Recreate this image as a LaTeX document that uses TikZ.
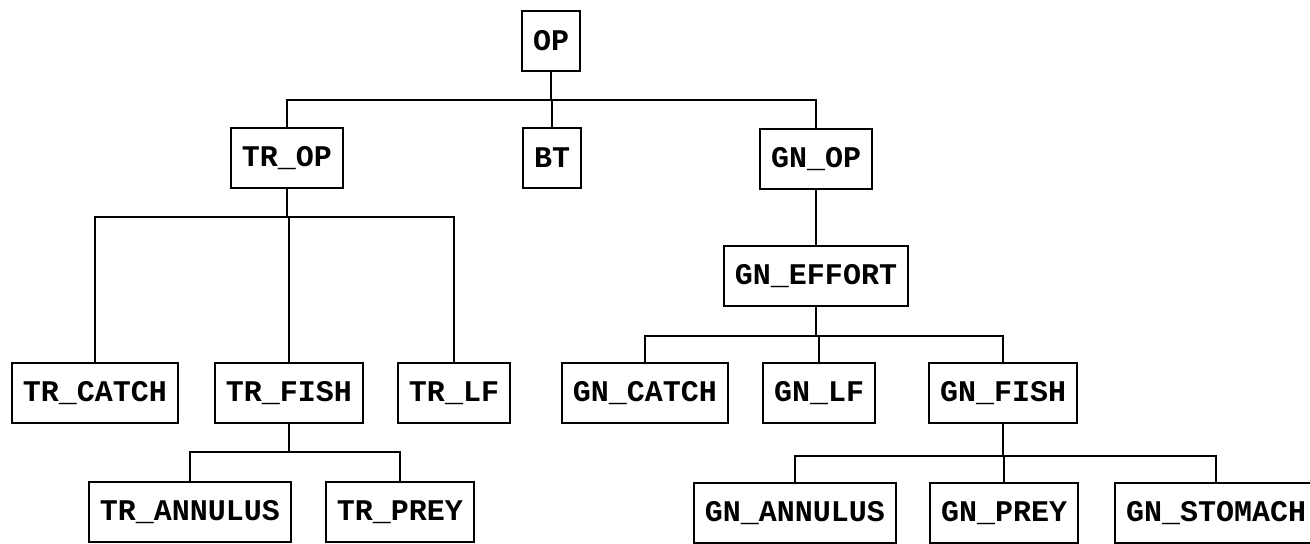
\documentclass[tikz,border=0pt]{standalone}
\usepackage{fontspec}
\setmonofont{Liberation Mono}
\usepackage{tikz}
\usetikzlibrary{positioning,calc}
\tikzset{
  box/.style={rectangle, draw=black, fill=white, line width=1.2pt, inner xsep=5.5pt, inner ysep=0pt,
              minimum height=30pt, font=\ttfamily\bfseries\fontsize{15}{15}\selectfont},
  link/.style={draw=black, line width=1pt}
}

\begin{document}
\begin{tikzpicture}[x=0.5pt, y=-0.5pt]
\useasboundingbox (0,0) rectangle (1310,544);
% root and first level
\node[box] (op) at (551,41) {OP};
\node[box] (trop) at (287,158) {TR\_OP};
\node[box] (bt) at (552,158) {BT};
\node[box] (gnop) at (816,159) {GN\_OP};
\node[box] (gneffort) at (816,276) {GN\_EFFORT};
% second level
\node[box] (trcatch) at (95,393) {TR\_CATCH};
\node[box] (trfish) at (289,393) {TR\_FISH};
\node[box] (trlf) at (454,393) {TR\_LF};
\node[box] (gncatch) at (645,393) {GN\_CATCH};
\node[box] (gnlf) at (819,393) {GN\_LF};
\node[box] (gnfish) at (1003,393) {GN\_FISH};
% third level
\node[box] (trannulus) at (190,512) {TR\_ANNULUS};
\node[box] (trprey) at (400,512) {TR\_PREY};
\node[box] (gnannulus) at (795,513) {GN\_ANNULUS};
\node[box] (gnprey) at (1004,513) {GN\_PREY};
\node[box] (gnstomach) at (1216,513) {GN\_STOMACH};
% buses
\coordinate (bus0) at (0,100);
\coordinate (bus1) at (0,217);
\coordinate (bus2) at (0,452);
\coordinate (bus3) at (0,336);
\coordinate (bus4) at (0,456);
\foreach \c in {trop,bt,gnop}
  \draw[link] (op.south) -- (op.south |- bus0) -| (\c.north);
\foreach \c in {trcatch,trfish,trlf}
  \draw[link] (trop.south) -- (trop.south |- bus1) -| (\c.north);
\foreach \c in {trannulus,trprey}
  \draw[link] (trfish.south) -- (trfish.south |- bus2) -| (\c.north);
\draw[link] (gnop.south) -- (gneffort.north);
\foreach \c in {gncatch,gnlf,gnfish}
  \draw[link] (gneffort.south) -- (gneffort.south |- bus3) -| (\c.north);
\foreach \c in {gnannulus,gnprey,gnstomach}
  \draw[link] (gnfish.south) -- (gnfish.south |- bus4) -| (\c.north);
\end{tikzpicture}
\end{document}
